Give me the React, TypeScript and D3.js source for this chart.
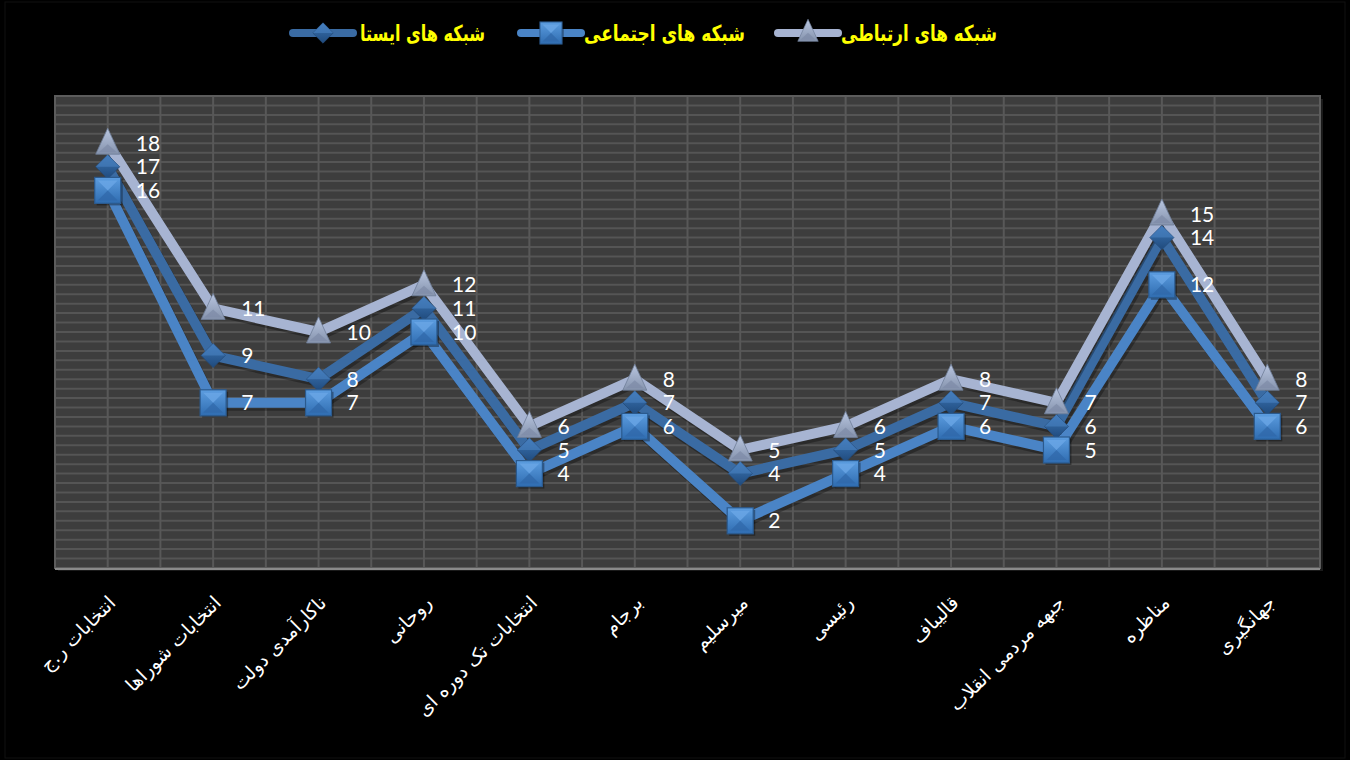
import React from "react";
import * as d3 from "d3";

const categories = [
  "انتخابات ر.ج",
  "انتخابات شوراها",
  "ناکارآمدی دولت",
  "روحانی",
  "انتخابات تک دوره ای",
  "برجام",
  "میرسلیم",
  "رئیسی",
  "قالیباف",
  "جبهه مردمی انقلاب",
  "مناظره",
  "جهانگیری",
];

const istaValues = [17, 9, 8, 11, 5, 7, 4, 5, 7, 6, 14, 7];
const ejtemaiValues = [16, 7, 7, 10, 4, 6, 2, 4, 6, 5, 12, 6];
const ertebatiValues = [18, 11, 10, 12, 6, 8, 5, 6, 8, 7, 15, 8];

const seriesNames = ["شبکه های ایستا", "شبکه های اجتماعی", "شبکه های ارتباطی"];

const W = 1350;
const H = 760;
const PL = 55, PR = 1320, PT = 96, PB = 568;

type Series = { name: string; values: number[]; line: string; marker: string };

const series: Series[] = [
  { name: seriesNames[1], values: ejtemaiValues, line: "#4a84c6", marker: "square" },
  { name: seriesNames[0], values: istaValues, line: "#3a6ba3", marker: "diamond" },
  { name: seriesNames[2], values: ertebatiValues, line: "#a7b4d2", marker: "triangle" },
];

function Marker({ type, x, y, k = 1 }: { type: string; x: number; y: number; k?: number }) {
  if (type === "square") {
    const s = 13;
    return (
      <g transform={`translate(${x},${y}) scale(${k})`}>
        <rect x={-s + 2} y={-s + 2} width={2 * s} height={2 * s} fill="#000" opacity={0.35} />
        <rect x={-s} y={-s} width={2 * s} height={2 * s} fill="url(#sqGrad)" stroke="#2b5a8e" strokeWidth={1.2} />
        <polygon points={`${-s + 3},${-s + 3} ${s - 3},${-s + 3} 0,0`} fill="#6aa6e6" opacity={0.8} />
        <polygon points={`${-s + 3},${s - 3} ${s - 3},${s - 3} 0,0`} fill="#2f67a8" opacity={0.7} />
      </g>
    );
  }
  if (type === "diamond") {
    const s = 12;
    return (
      <g transform={`translate(${x},${y}) scale(${k})`}>
        <polygon points={`0,${-s} ${s},0 0,${s} ${-s},0`} fill="url(#diGrad)" stroke="#234a78" strokeWidth={0.8} />
        <polygon points={`0,${-s} ${s},0 ${-s},0`} fill="#4a82c2" opacity={0.6} />
      </g>
    );
  }
  const w = 12, h = 13;
  return (
    <g transform={`translate(${x},${y}) scale(${k})`}>
      <polygon points={`0,${-h - 2} ${w},${h - 2} ${-w},${h - 2}`} fill="url(#trGrad)" stroke="#6f7d98" strokeWidth={0.8} />
      <polygon points={`${-w + 3},${h - 4} ${w - 3},${h - 4} 0,${h - 12}`} fill="#7d8aa6" opacity={0.7} />
    </g>
  );
}

export default function App() {
  const x = d3.scaleBand<string>().domain(categories).range([PL, PR]);
  const cx = (c: string) => (x(c) as number) + x.bandwidth() / 2;
  const y = d3.scaleLinear().domain([0, 20]).range([PB, PT]);

  const hTicks = d3.range(0, 20.0001, 0.4);
  const vLines = d3.range(0, categories.length * 2 + 1).map((k) => PL + (k * x.bandwidth()) / 2);

  const line = d3
    .line<number>()
    .x((_, i) => cx(categories[i]))
    .y((v) => y(v));

  const legendItems = [
    { name: seriesNames[0], color: "#3a6ba3", marker: "diamond", lx: 293, mx: 323, tx: 360, tw: 125 },
    { name: seriesNames[1], color: "#4a84c6", marker: "square", lx: 521, mx: 551, tx: 584, tw: 161 },
    { name: seriesNames[2], color: "#a7b4d2", marker: "triangle", lx: 778, mx: 808, tx: 841, tw: 156 },
  ];

  return (
    <div style={{ position: "fixed", left: 0, top: 0 }}>
      <svg width={W} height={H} style={{ display: "block" }}>
        <defs>
          <linearGradient id="sqGrad" x1="0" y1="0" x2="0" y2="1">
            <stop offset="0" stopColor="#5c9de0" />
            <stop offset="1" stopColor="#2f6cb0" />
          </linearGradient>
          <linearGradient id="diGrad" x1="0" y1="0" x2="0" y2="1">
            <stop offset="0" stopColor="#3d76b6" />
            <stop offset="1" stopColor="#1f4a7c" />
          </linearGradient>
          <linearGradient id="trGrad" x1="0" y1="0" x2="0" y2="1">
            <stop offset="0" stopColor="#b9c6e0" />
            <stop offset="1" stopColor="#8593ad" />
          </linearGradient>
        </defs>
        <rect x={0} y={0} width={W} height={H} fill="#000" />
        <rect x={5} y={2} width={W - 10} height={H - 4} fill="none" stroke="#111" />

        {/* plot area */}
        <rect x={PL + 3} y={PT + 3} width={PR - PL} height={PB - PT} fill="#1a1a1a" />
        <rect x={PL} y={PT} width={PR - PL} height={PB - PT} fill="#3d3d3d" />
        {hTicks.map((t, i) => (
          <line key={"h" + i} x1={PL} x2={PR} y1={y(t)} y2={y(t)} stroke="#555" strokeWidth={2} />
        ))}
        {vLines.map((v, i) => (
          <line key={"v" + i} x1={v} x2={v} y1={PT} y2={PB} stroke="#585858" strokeWidth={2} />
        ))}
        <rect x={PL} y={PT} width={PR - PL} height={PB - PT} fill="none" stroke="#5c5c5c" strokeWidth={2} />
        <line x1={PL} x2={PR} y1={PB + 1} y2={PB + 1} stroke="#8a8a8a" strokeWidth={2} />

        {/* lines */}
        {series.map((s) => (
          <g key={s.name + "l"}>
            <path d={line(s.values) || ""} fill="none" stroke="#000" strokeOpacity={0.3} strokeWidth={10} transform="translate(2,3)" />
            <path d={line(s.values) || ""} fill="none" stroke={s.line} strokeWidth={10} strokeLinejoin="miter" />
          </g>
        ))}

        {/* markers */}
        {[series[1], series[0], series[2]].map((s) => (
          <g key={s.name + "m"}>
            {s.values.map((v, i) => (
              <Marker key={i} type={s.marker} x={cx(categories[i])} y={y(v)} />
            ))}
          </g>
        ))}

        {/* labels */}
        {series.map((s) => (
          <g key={s.name + "t"}>
            {s.values.map((v, i) => (
              <text
                key={i}
                x={cx(categories[i]) + 28}
                y={y(v)}
                dy="0.36em"
                fill="#fff"
                fontFamily="Lato, 'Open Sans', sans-serif"
                fontSize={21}
              >
                {v}
              </text>
            ))}
          </g>
        ))}

        {/* x axis labels */}
        {categories.map((c) => (
          <text
            key={c}
            transform={`translate(${cx(c) + 9},${604}) rotate(-45)`}
            textAnchor="end"
            fill="#fff"
            fontFamily="'DejaVu Sans', sans-serif"
            fontSize={19}
          >
            {c}
          </text>
        ))}

        {/* legend */}
        {legendItems.map((l) => (
          <g key={l.name}>
            <line x1={l.lx} x2={l.lx + 60} y1={33} y2={33} stroke={l.color} strokeWidth={8} strokeLinecap="round" />
            <Marker type={l.marker} x={l.mx} y={l.marker === "triangle" ? 32 : 33} k={0.85} />
            <text
              x={l.tx}
              y={33}
              dy="0.35em"
              textLength={l.tw}
              lengthAdjust="spacingAndGlyphs"
              fill="#ffff00"
              fontFamily="'DejaVu Sans', sans-serif"
              fontWeight="bold"
              fontSize={22}
            >
              {l.name}
            </text>
          </g>
        ))}
      </svg>
    </div>
  );
}
